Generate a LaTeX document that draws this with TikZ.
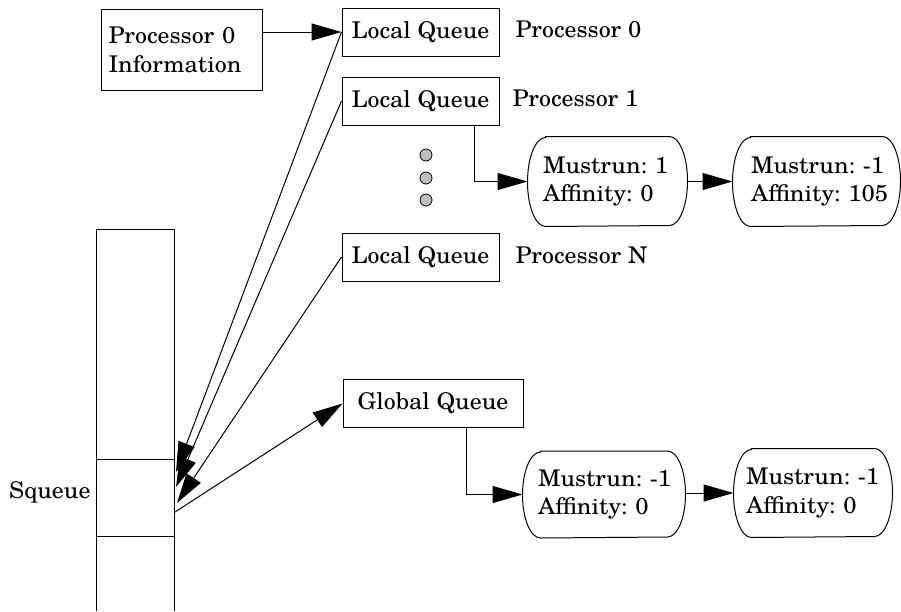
\documentclass[tikz,border=0pt]{standalone}
\usepackage{fontspec}
\setmainfont[FakeStretch=1.04]{TeX Gyre Schola}
\usetikzlibrary{arrows.meta,calc}

\begin{document}
\frenchspacing
\begin{tikzpicture}[x=1pt, y=-1pt, line width=1pt,
  every node/.style={font=\fontsize{23}{28.5}\selectfont},
  qbox/.style={draw, rectangle, inner sep=0pt, minimum height=48},
  tag/.style={anchor=base west, inner sep=0pt},
  entry/.style={rectangle, inner ysep=0pt, align=left},
  dotc/.style={circle, draw, fill=gray!50, line width=0.8pt, minimum size=12, inner sep=0pt},
  arr/.style={-{Triangle[length=30pt, width=17pt]}}
]
\useasboundingbox (0,0) rectangle (901,611);

% processor information and local queues
\node[draw, rectangle, inner xsep=7pt, text width=147pt, align=left, minimum height=81]
  (pinfo) at (182,50) {Processor 0\\Information};
\node[qbox, minimum width=157] (lq0) at (420.5,32) {Local Queue};
\node[qbox, minimum width=157] (lq1) at (420.5,101) {Local Queue};
\node[qbox, minimum width=157] (lqN) at (420.5,257) {Local Queue};
\node[tag] (p0) at (515,37) {Processor 0};
\node[tag] (p1) at (512,106) {Processor 1};
\node[tag] (pN) at (515,263) {Processor N};

% ellipsis between queues
\node[dotc] (d1) at (426,155) {};
\node[dotc] (d2) at (426,178) {};
\node[dotc] (d3) at (426,200) {};

% global queue
\node[qbox, minimum width=180] (gq) at (433,403.5) {Global Queue};

% run queue entries
\node[entry, inner xsep=15pt, text width=129pt, minimum height=89] (m1) at (607.5,181.5)
  {\mbox{Mustrun: 1}\\\mbox{Affinity: 0}};
\node[entry, inner xsep=18pt, text width=131pt, minimum height=89] (m2) at (816.5,181.5)
  {\mbox{Mustrun: -1}\\\mbox{Affinity: 105}};
\node[entry, inner xsep=15pt, text width=132pt, minimum height=86] (m3) at (604,494.5)
  {\mbox{Mustrun: -1}\\\mbox{Affinity: 0}};
\node[entry, inner xsep=12pt, text width=134pt, minimum height=88] (m4) at (813,493)
  {\mbox{Mustrun: -1}\\\mbox{Affinity: 0}};

% outlines with elliptic ends
\foreach \n/\h in {m1/44.5, m2/44.5, m3/43, m4/44}{
  \draw ([xshift=18pt]\n.north west) -- ([xshift=-18pt]\n.north east)
    arc[start angle=90, end angle=-90, x radius=18pt, y radius=\h pt]
    -- ([xshift=18pt]\n.south west)
    arc[start angle=270, end angle=90, x radius=18pt, y radius=\h pt] -- cycle;
}

% squeue column
\draw (96,611) -- (96,229) -- (174,229) -- (174,611);
\node[draw, rectangle, inner sep=0pt, minimum width=78, minimum height=77] (sq) at (135,497.5) {};
\node[anchor=base east, inner sep=0pt] (sqlabel) at (91,498) {Squeue};

\coordinate (t0) at (176,472);
\coordinate (t1) at (176,487);
\coordinate (tN) at (177,503);
\coordinate (s0) at (175,512);

% connectors
\draw[arr] (pinfo.east |- lq0.west) -- (lq0.west);
\draw[arr] ([xshift=53.5pt]lq1.south) |- (m1.west);
\draw[arr] (m1.east) -- (m2.west);
\draw[arr] ([xshift=33pt]gq.south) |- (m3.west);
\draw[arr] (m3.east |- m4.west) -- (m4.west);
\draw[arr] (lq0.west) -- (t0);
\draw[arr] (lq1.west) -- (t1);
\draw[arr] (lqN.west) -- (tN);
\draw[arr] (s0) -- (gq.west);
\end{tikzpicture}
\end{document}
